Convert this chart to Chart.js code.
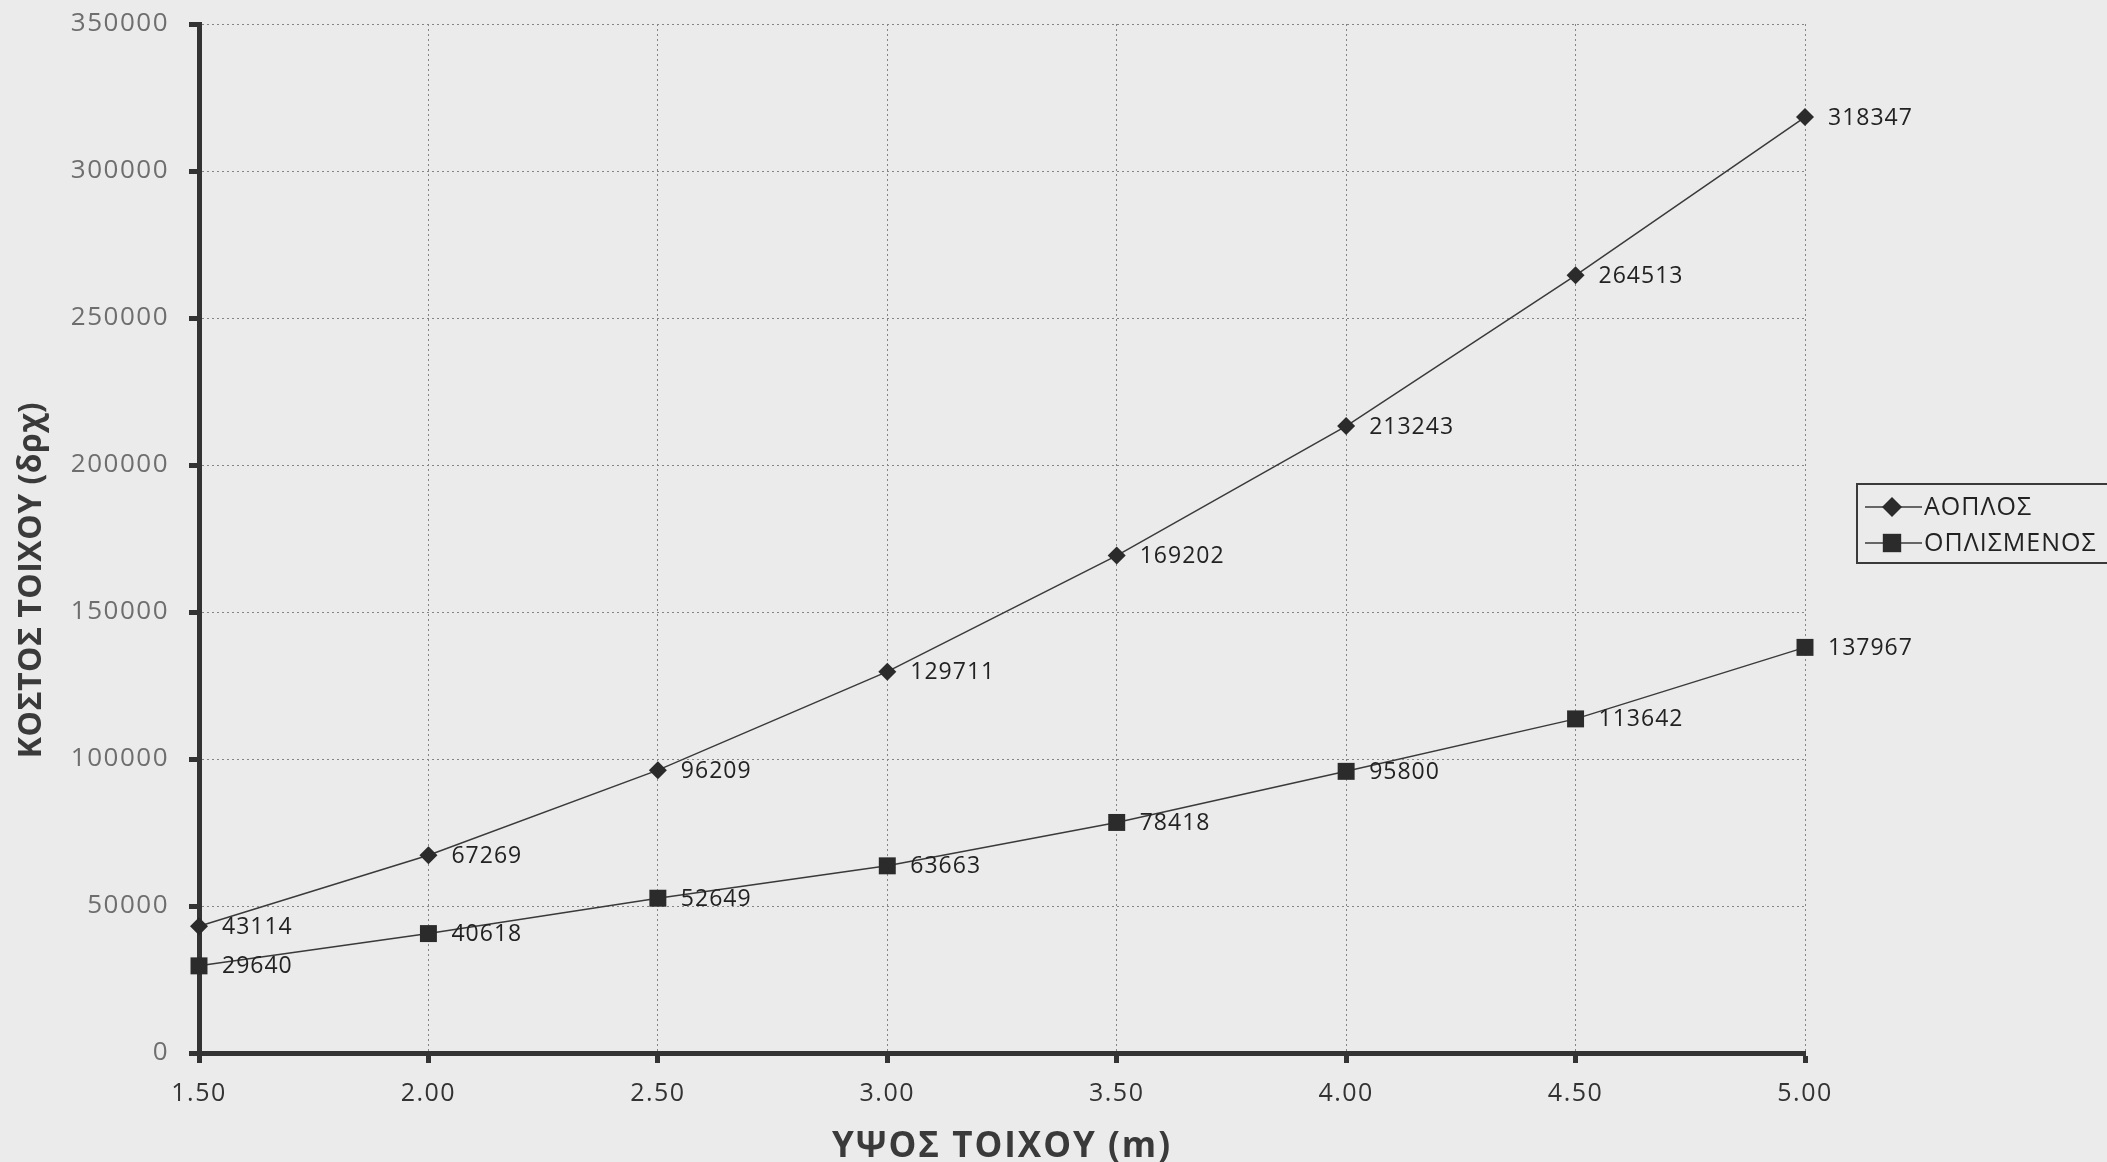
<!DOCTYPE html>
<html>
<head>
<meta charset="utf-8">
<title>ΚΟΣΤΟΣ ΤΟΙΧΟΥ</title>
<script src="https://cdn.jsdelivr.net/npm/chart.js@4.4.0/dist/chart.umd.min.js"></script>
<style>
  html, body { margin: 0; padding: 0; background: #ebebeb; }
  #wrap { width: 2107px; height: 1162px; position: relative; overflow: hidden; }
  canvas { display: block; }
</style>
</head>
<body>
<div id="wrap"><canvas id="chart" width="2107" height="1162"></canvas></div>
<script>
// Wall height (m) along the x axis
const heights = ['1.50', '2.00', '2.50', '3.00', '3.50', '4.00', '4.50', '5.00'];
// Wall cost (δρχ) for each wall type
const unreinforced = [43114, 67269, 96209, 129711, 169202, 213243, 264513, 318347];
const reinforced = [29640, 40618, 52649, 63663, 78418, 95800, 113642, 137967];
const seriesNames = ['ΑΟΠΛΟΣ', 'ΟΠΛΙΣΜΕΝΟΣ'];
// Cost axis range
const costMin = 0;
const costMax = 350000;
const costStep = 50000;

const FONT = "'Open Sans', 'DejaVu Sans', sans-serif";
const INK = '#2b2b2b';

// Slightly open letter spacing for all canvas text
const spacing = {
  id: 'spacing',
  beforeDraw(chart) { chart.ctx.letterSpacing = '1.5px'; }
};

// Value labels to the right of every marker
const valueLabels = {
  id: 'valueLabels',
  afterDatasetsDraw(chart) {
    const ctx = chart.ctx;
    ctx.save();
    ctx.font = `23px ${FONT}`;
    ctx.letterSpacing = '1px';
    ctx.fillStyle = '#222';
    ctx.textAlign = 'left';
    ctx.textBaseline = 'middle';
    chart.data.datasets.forEach((ds, i) => {
      chart.getDatasetMeta(i).data.forEach((pt, j) => {
        ctx.fillText(String(ds.data[j]), pt.x + 23, pt.y + 1);
      });
    });
    ctx.restore();
  }
};

// Axis titles
const axisTitles = {
  id: 'axisTitles',
  afterDraw(chart) {
    const ctx = chart.ctx;
    const area = chart.chartArea;
    ctx.save();
    ctx.fillStyle = '#3a3a3a';
    ctx.textAlign = 'center';
    ctx.textBaseline = 'middle';
    ctx.font = `bold 35px ${FONT}`;
    ctx.letterSpacing = '2px';
    ctx.fillText('ΥΨΟΣ ΤΟΙΧΟΥ (m)', (area.left + area.right) / 2, 1147);
    ctx.translate(32, 580);
    ctx.rotate(-Math.PI / 2);
    ctx.font = `bold 32px ${FONT}`;
    ctx.letterSpacing = '0.5px';
    ctx.fillText('ΚΟΣΤΟΣ ΤΟΙΧΟΥ (δρχ)', 0, 0);
    ctx.restore();
  }
};

// Boxed legend on the right side
function marker(ctx, style, x, y, r) {
  ctx.beginPath();
  if (style === 'rectRot') {
    ctx.moveTo(x, y - r); ctx.lineTo(x + r, y); ctx.lineTo(x, y + r); ctx.lineTo(x - r, y);
    ctx.closePath();
  } else {
    const s = Math.SQRT1_2 * r;
    ctx.rect(x - s, y - s, 2 * s, 2 * s);
  }
  ctx.fill();
}
const boxLegend = {
  id: 'boxLegend',
  afterDraw(chart) {
    const ctx = chart.ctx;
    const left = 1857, top = 484, bottom = 563;
    ctx.save();
    ctx.strokeStyle = '#3a3a3a';
    ctx.lineWidth = 2;
    ctx.strokeRect(left, top, 300, bottom - top);
    const rows = [507, 543];
    ctx.font = `25px ${FONT}`;
    ctx.letterSpacing = '1px';
    ctx.textAlign = 'left';
    ctx.textBaseline = 'middle';
    chart.data.datasets.forEach((ds, i) => {
      const y = rows[i];
      ctx.strokeStyle = ds.borderColor;
      ctx.lineWidth = 1.5;
      ctx.beginPath(); ctx.moveTo(1865, y); ctx.lineTo(1922, y); ctx.stroke();
      ctx.fillStyle = ds.pointBackgroundColor;
      marker(ctx, ds.pointStyle, 1892, y, ds.pointRadius + 1);
      ctx.fillStyle = '#222';
      ctx.fillText(ds.label, 1924, y + 1);
    });
    ctx.restore();
  }
};

new Chart(document.getElementById('chart'), {
  type: 'line',
  data: {
    labels: heights,
    datasets: [
      {
        label: seriesNames[0],
        data: unreinforced,
        borderColor: '#3a3a3a',
        borderWidth: 1.5,
        pointStyle: 'rectRot',
        pointRadius: 9,
        pointBackgroundColor: INK,
        pointBorderColor: INK,
        pointBorderWidth: 0,
        tension: 0,
        clip: false
      },
      {
        label: seriesNames[1],
        data: reinforced,
        borderColor: '#3a3a3a',
        borderWidth: 1.5,
        pointStyle: 'rect',
        pointRadius: 12,
        pointBackgroundColor: INK,
        pointBorderColor: INK,
        pointBorderWidth: 0,
        tension: 0,
        clip: false
      }
    ]
  },
  options: {
    responsive: false,
    devicePixelRatio: 1,
    animation: false,
    layout: { padding: { top: 24, right: 302, left: 0, bottom: 0 } },
    plugins: {
      legend: { display: false },
      tooltip: { enabled: false }
    },
    scales: {
      x: {
        type: 'category',
        offset: false,
        afterFit(scale) { scale.height = 109; scale.paddingLeft = 0; scale.paddingRight = 0; },
        grid: {
          color: '#858585', lineWidth: 1,
          tickColor: '#333', tickWidth: 5, tickLength: 10
        },
        border: { display: true, color: '#333', width: 5, dash: [2, 3] },
        ticks: {
          color: '#333', padding: 16, maxRotation: 0,
          font: { family: FONT, size: 25 }
        }
      },
      y: {
        min: costMin, max: costMax,
        afterFit(scale) { scale.width = 199; scale.paddingTop = 0; scale.paddingBottom = 0; },
        grid: {
          color: '#858585', lineWidth: 1,
          tickColor: '#333', tickWidth: 5, tickLength: 10
        },
        border: { display: true, color: '#333', width: 5, dash: [2, 3] },
        ticks: {
          stepSize: costStep, color: '#6e6e6e', padding: 20,
          font: { family: FONT, size: 26 },
          callback: v => String(v)
        }
      }
    }
  },
  plugins: [spacing, valueLabels, axisTitles, boxLegend]
});
</script>
</body>
</html>
